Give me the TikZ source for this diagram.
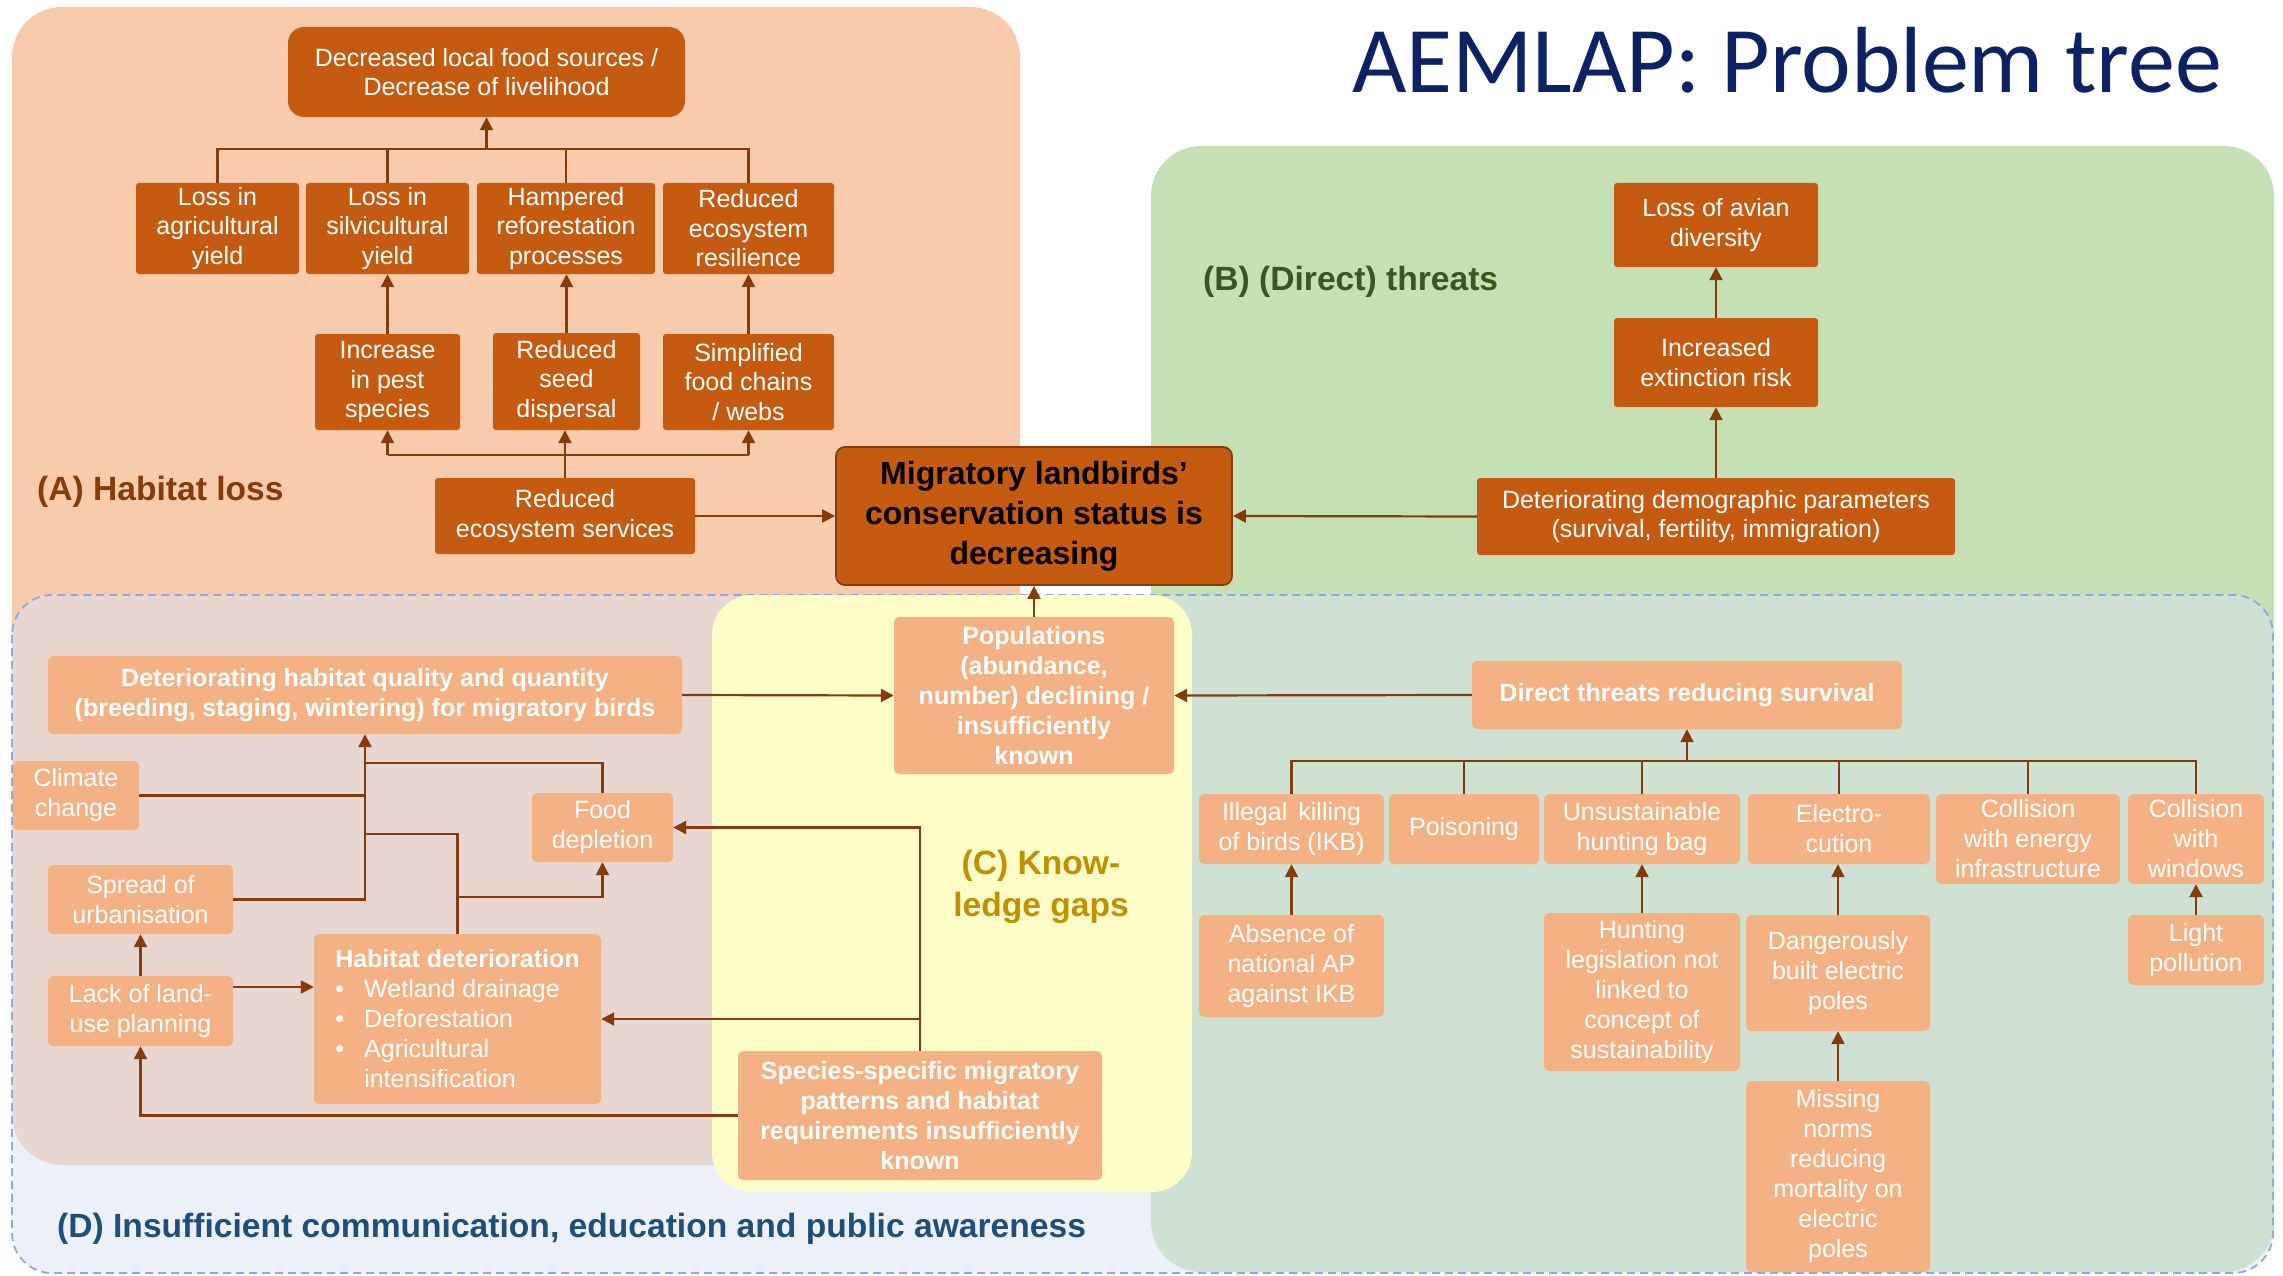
\documentclass[tikz,border=0pt]{standalone}
\usepackage{fontspec}
\setmainfont{Liberation Sans}
\newfontfamily\titlefont{Carlito}
\usetikzlibrary{arrows.meta}
\definecolor{peachA}{HTML}{F8CBAD}
\definecolor{greenB}{HTML}{C5E0B4}
\definecolor{yellowC}{HTML}{FEFDC8}
\definecolor{blueD}{HTML}{DAE3F3}
\definecolor{dashD}{HTML}{8FAADC}
\definecolor{darkor}{HTML}{C55A11}
\definecolor{lightor}{HTML}{F4B183}
\definecolor{brownln}{HTML}{843C0C}
\definecolor{labA}{HTML}{843C0C}
\definecolor{labB}{HTML}{385723}
\definecolor{labC}{HTML}{BF9000}
\definecolor{labD}{HTML}{1F4E79}
\definecolor{titlec}{RGB}{14,34,99}
\newcommand\mybox[7]{%
  \pgfmathsetmacro\bxw{#5-#3}\pgfmathsetmacro\bxh{#6-#4}%
  \pgfmathsetmacro\bxcx{(#3+#5)/2}\pgfmathsetmacro\bxcy{(#4+#6)/2}%
  \node[#2, minimum width=\bxw pt, minimum height=\bxh pt] (#1) at (\bxcx,\bxcy) {#7};}
\tikzset{
 dk/.style={fill=darkor, text=white, rounded corners=3pt, inner sep=2pt, align=center, font=\fontsize{25}{29.5}\selectfont},
 lt/.style={fill=lightor, text=white, rounded corners=5pt, inner sep=2pt, align=center, font=\fontsize{25}{30}\selectfont},
 ltb/.style={lt, font=\fontsize{25}{30}\selectfont\bfseries},
 ln/.style={draw=brownln, line width=2.2pt},
 arr/.style={ln, -{Triangle[width=13pt,length=13pt]}},
 lab/.style={font=\fontsize{33.6}{42}\selectfont\bfseries, inner sep=0pt},
}
\begin{document}
\begin{tikzpicture}[x=1pt,y=-1pt]
\fill[white] (0,0) rectangle (2283,1276);
\useasboundingbox (0,0) rectangle (2283,1276);
% panels
\fill[peachA, rounded corners=50pt] (12,7) rectangle (1020,1165);
\fill[greenB, rounded corners=50pt] (1151,146) rectangle (2274,1272);
\draw[dashD, fill=blueD, fill opacity=0.5, dash pattern=on 8pt off 5pt, line width=1.8pt, rounded corners=40pt] (12,595) rectangle (2273,1273);
\fill[yellowC, rounded corners=40pt] (712,595) rectangle (1192,1192);
% title
\node[anchor=base west, inner sep=0pt, text=titlec, font=\titlefont\fontsize{94}{100}\selectfont] (title) at (1352,93) {AEMLAP: Problem tree};
% labels
\node[lab, text=labA, anchor=west] (labA) at (37,492) {(A) Habitat loss};
\node[lab, text=labB, anchor=west] (labB) at (1203,282) {(B) (Direct) threats};
\node[lab, text=labC, align=center] (labC) at (1041,887) {(C) Know-\\ledge gaps};
\node[lab, text=labD, anchor=west] (labD) at (57,1229) {(D) Insufficient communication, education and public awareness};
% panel A nodes
\mybox{df}{dk, rounded corners=16pt}{288}{27}{685}{117}{Decreased local food sources /\\Decrease of livelihood}
\mybox{la}{dk}{136}{183}{299}{274}{Loss in\\agricultural\\yield}
\mybox{ls}{dk}{306}{183}{469}{274}{Loss in\\silvicultural\\yield}
\mybox{hr}{dk}{477}{183}{655}{274}{Hampered\\reforestation\\processes}
\mybox{re}{dk}{663}{183}{834}{274}{Reduced\\ecosystem\\resilience}
\mybox{ip}{dk}{315}{334}{460}{430}{Increase\\in pest\\species}
\mybox{rsd}{dk}{493}{333}{640}{430}{Reduced\\seed\\dispersal}
\mybox{sf}{dk}{663}{334}{834}{430}{Simplified\\food chains\\/ webs}
\mybox{res}{dk}{435}{478}{695}{554}{Reduced\\ecosystem services}
% main node
\mybox{main}{dk, draw=brownln, line width=1.8pt, rounded corners=9pt, text=black, font=\fontsize{32}{40}\selectfont\bfseries}{836}{447}{1232}{585}{Migratory landbirds’\\conservation status is\\decreasing}
% panel B nodes
\mybox{av}{dk}{1614}{183}{1818}{267}{Loss of avian\\diversity}
\mybox{ext}{dk}{1614}{318}{1818}{407}{Increased\\extinction risk}
\mybox{dem}{dk}{1477}{478}{1955}{555}{Deteriorating demographic parameters\\(survival, fertility, immigration)}
% panel C/D left nodes
\mybox{pop}{ltb}{894}{617}{1174}{774}{Populations\\(abundance,\\number) declining /\\insufficiently\\known}
\mybox{dh}{ltb}{48}{656}{682}{734}{Deteriorating habitat quality and quantity\\(breeding, staging, wintering) for migratory birds}
\mybox{cc}{lt}{13}{761}{139}{830}{Climate\\change}
\mybox{fd}{lt}{532}{793}{673}{862}{Food\\depletion}
\mybox{su}{lt}{48}{865}{233}{934}{Spread of\\urbanisation}
\mybox{lu}{lt}{48}{976}{233}{1046}{Lack of land-\\use planning}
\mybox{hd}{lt, align=left}{314}{934}{601}{1104}{{\bfseries Habitat deterioration}\\\makebox[29pt][l]{\textbullet}Wetland drainage\\\makebox[29pt][l]{\textbullet}Deforestation\\\makebox[29pt][l]{\textbullet}Agricultural\\\hspace*{29pt}intensification}
\mybox{sp}{ltb}{738}{1051}{1102}{1180}{Species-specific migratory\\patterns and habitat\\requirements insufficiently\\known}
% D right nodes
\mybox{dt}{ltb}{1472}{661}{1902}{729}{Direct threats reducing survival}
\mybox{ik}{lt}{1199}{794}{1384}{864}{Illegal\, killing\\of birds (IKB)}
\mybox{po}{lt}{1389}{794}{1539}{864}{Poisoning}
\mybox{uh}{lt}{1544}{794}{1740}{864}{Unsustainable\\hunting bag}
\mybox{ec}{lt}{1748}{794}{1930}{864}{Electro-\\cution}
\mybox{ce}{lt}{1936}{794}{2120}{884}{Collision\\with energy\\infrastructure}
\mybox{cw}{lt}{2128}{794}{2264}{884}{Collision\\with\\windows}
\mybox{ab}{lt}{1199}{915}{1384}{1017}{Absence of\\national AP\\against IKB}
\mybox{hl}{lt}{1544}{913}{1740}{1071}{Hunting\\legislation not\\linked to\\concept of\\sustainability}
\mybox{db}{lt}{1746}{915}{1930}{1031}{Dangerously\\built electric\\poles}
\mybox{lp}{lt}{2128}{915}{2264}{985}{Light\\pollution}
\mybox{mn}{lt}{1746}{1081}{1930}{1272}{Missing\\norms\\reducing\\mortality on\\electric\\poles}
% connectors panel A
\coordinate (bA1) at (0,149);
\coordinate (bA2) at (0,455);
\draw[ln] (la.north) -- (la.north|-bA1) -- (re.north|-bA1) -- (re.north);
\draw[ln] (ls.north) -- (ls.north|-bA1);
\draw[ln] (hr.north) -- (hr.north|-bA1);
\draw[arr] (df.south|-bA1) -- (df.south);
\draw[arr] (ip.north) -- (ls.south);
\draw[arr] (rsd.north) -- (rsd.north|-hr.south);
\draw[arr] (sf.north) -- (re.south);
\draw[ln] (ip.south|-bA2) -- (sf.south|-bA2);
\draw[arr] (ip.south|-bA2) -- (ip.south);
\draw[arr] (sf.south|-bA2) -- (sf.south);
\draw[arr] (res.north) -- (res.north|-rsd.south);
\draw[arr] (res.east) -- (main.west);
% connectors panel B
\draw[arr] (dem.north) -- (ext.south);
\draw[arr] (ext.north) -- (av.south);
\draw[arr] (dem.west) -- (main.east);
% connectors centre
\draw[arr] (pop.north) -- (main.south);
\draw[arr] (dh.east) -- (pop.west);
\draw[arr] (dt.west) -- (pop.east);
% connectors D left
\coordinate (j1) at (365,763);
\coordinate (j2) at (365,834);
\coordinate (j3) at (0,897);
\coordinate (j4) at (0,987);
\draw[arr] (su.east) -| (dh.south);
\draw[ln] (cc.east) -- (cc.east -| dh.south);
\draw[ln] (fd.north) |- (j1);
\draw[ln] (hd.north) |- (j2);
\draw[arr] (hd.north|-j3) -| (fd.south);
\draw[arr] (lu.north) -- (su.south);
\draw[arr] (lu.east|-j4) -- (hd.west|-j4);
\draw[arr] (sp.north) |- (fd.east);
\draw[arr] (sp.north|-hd.east) -- (hd.east);
\draw[arr] (sp.west) -| (lu.south);
% connectors D right
\coordinate (busR) at (0,761);
\draw[ln] (ik.north) -- (ik.north|-busR) -- (cw.north|-busR) -- (cw.north);
\draw[ln] (po.north) -- (po.north|-busR);
\draw[ln] (uh.north) -- (uh.north|-busR);
\draw[ln] (ec.north) -- (ec.north|-busR);
\draw[ln] (ce.north) -- (ce.north|-busR);
\draw[arr] (dt.south|-busR) -- (dt.south);
\draw[arr] (ab.north) -- (ik.south);
\draw[arr] (hl.north) -- (uh.south);
\draw[arr] (db.north) -- (db.north|-ec.south);
\draw[arr] (mn.north) -- (db.south);
\draw[arr] (lp.north) -- (cw.south);
\end{tikzpicture}
\end{document}
